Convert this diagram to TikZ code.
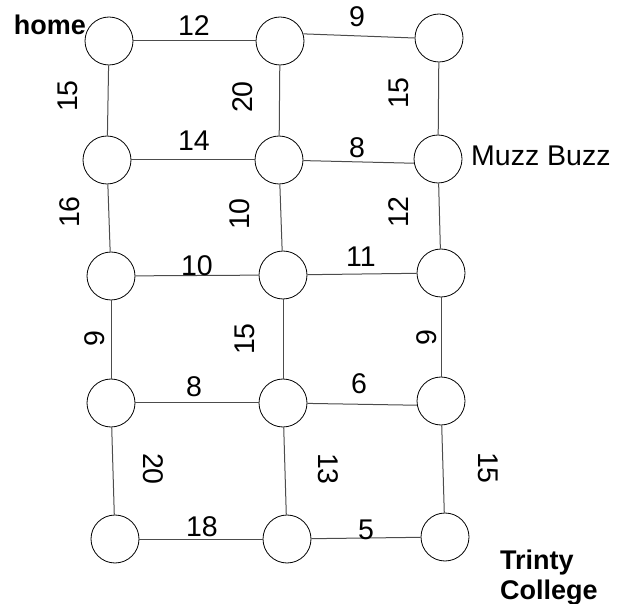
\documentclass[tikz,border=0pt]{standalone}
\usepackage{fontspec}
\setmainfont{Liberation Sans}
\begin{document}
\begin{tikzpicture}[x=1pt,y=-1pt,
  vtx/.style={circle,draw=black,line width=0.8pt,minimum size=48pt,inner sep=0pt,fill=white},
  edge/.style={draw=black!70,line width=1pt},
  lbl/.style={font=\fontsize{28.5}{34}\selectfont,inner sep=0pt},
  vlbl/.style={lbl,rotate=90},
  dlbl/.style={lbl,rotate=-90},
  placename/.style={font=\fontsize{27}{31}\selectfont\bfseries,inner sep=0pt,align=left}
]
\useasboundingbox (0,0) rectangle (622,604);
% vertices
\node[vtx] (a1) at (109,41) {};
\node[vtx] (a2) at (280,41) {};
\node[vtx] (a3) at (439,38) {};
\node[vtx] (b1) at (107,160) {};
\node[vtx] (b2) at (279,160) {};
\node[vtx] (b3) at (438,159) {};
\node[vtx] (c1) at (111,276) {};
\node[vtx] (c2) at (283,275) {};
\node[vtx] (c3) at (441,273) {};
\node[vtx] (d1) at (111,403) {};
\node[vtx] (d2) at (283,403) {};
\node[vtx] (d3) at (441,401) {};
\node[vtx] (e1) at (115,539) {};
\node[vtx] (e2) at (287,539) {};
\node[vtx] (e3) at (445,537) {};
% horizontal edges
\draw[edge] (a1) -- (a2);
\draw[edge] (a2.17) -- (a3.west);
\draw[edge] (b1) -- (b2);
\draw[edge] (b2) -- (b3.190);
\draw[edge] (c1) -- (c2);
\draw[edge] (c2) -- (c3);
\draw[edge] (d1) -- (d2);
\draw[edge] (d2) -- (d3.190);
\draw[edge] (e1) -- (e2);
\draw[edge] (e2) -- (e3);
% vertical edges
\draw[edge] (a1) -- (b1);
\draw[edge] (b1) -- (c1);
\draw[edge] (c1) -- (d1);
\draw[edge] (d1) -- (e1);
\draw[edge] (a2) -- (b2);
\draw[edge] (b2) -- (c2);
\draw[edge] (c2) -- (d2);
\draw[edge] (d2) -- (e2);
\draw[edge] (a3) -- (b3);
\draw[edge] (b3) -- (c3);
\draw[edge] (c3) -- (d3);
\draw[edge] (d3) -- (e3);
% edge labels
\node[lbl] (l12) at (194,26) {12};
\node[lbl] (l9t) at (357,17) {9};
\node[vlbl] (l15a) at (68,96) {15};
\node[vlbl] (l20a) at (243,97) {20};
\node[vlbl] (l15b) at (399,93) {15};
\node[lbl] (l14) at (194,141) {14};
\node[lbl] (l8a) at (357,148) {8};
\node[vlbl] (l16) at (70,212) {16};
\node[vlbl] (l10v) at (240,214) {10};
\node[vlbl] (l12v) at (399,212) {12};
\node[lbl] (l10h) at (197,266) {10};
\node[lbl] (l11) at (361,257) {11};
\node[vlbl] (l9a) at (95,339) {9};
\node[vlbl] (l15c) at (245,339) {15};
\node[vlbl] (l9b) at (427,338) {9};
\node[lbl] (l8b) at (194,387) {8};
\node[lbl] (l6) at (359,384) {6};
\node[dlbl] (l20b) at (153,469) {20};
\node[dlbl] (l13) at (328,469) {13};
\node[dlbl] (l15d) at (488,468) {15};
\node[lbl] (l18) at (202,527) {18};
\node[lbl] (l5) at (366,530) {5};
% place names
\node[placename,anchor=east] (home) at (86,25) {home};
\node[lbl,anchor=west] (muzz) at (471,156) {Muzz Buzz};
\node[placename,anchor=base west] (trinity) at (500,569) {Trinty};
\node[placename,anchor=base west] (college) at (500,599) {College};
\end{tikzpicture}
\end{document}
